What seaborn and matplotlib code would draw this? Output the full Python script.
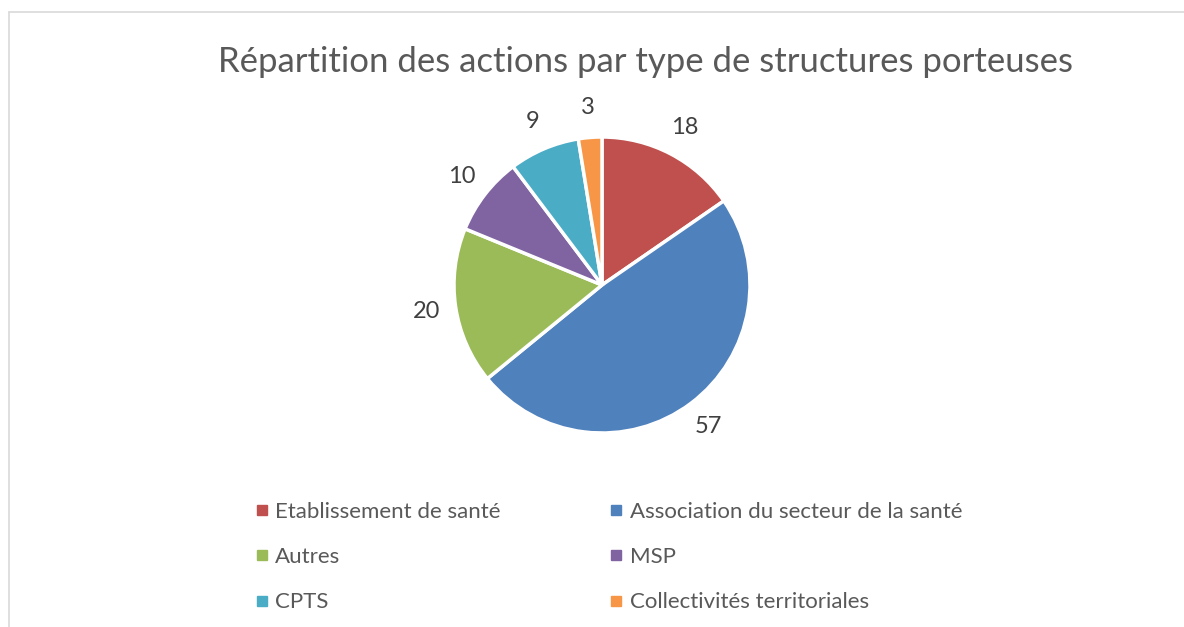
import matplotlib
matplotlib.use("Agg")
import matplotlib.pyplot as plt
import seaborn as sns
from matplotlib.lines import Line2D

# Data
categories = [
    "Etablissement de santé",
    "Association du secteur de la santé",
    "Autres",
    "MSP",
    "CPTS",
    "Collectivités territoriales",
]
counts = [18, 57, 20, 10, 9, 3]
colors = ["#C0504D", "#4F81BD", "#9BBB59", "#8064A2", "#4BACC6", "#F79646"]
title = "Répartition des actions par type de structures porteuses"

sns.set_theme(style="white")
plt.rcParams["font.family"] = ["Lato", "DejaVu Sans"]

W, H = 1184, 627
fig = plt.figure(figsize=(W / 100, H / 100), dpi=100)

# pie axes: centre (602, 285) px, radius 148 px
cx, cy, r = 602, 285, 148
k = 1.4
half = r * k
ax = fig.add_axes([(cx - half) / W, (H - cy - half) / H, 2 * half / W, 2 * half / H])

wedges, texts = ax.pie(
    counts,
    colors=colors,
    startangle=90,
    counterclock=False,
    labels=[str(v) for v in counts],
    labeldistance=1.2,
    wedgeprops=dict(edgecolor="white", linewidth=2.5),
    textprops=dict(fontsize=17, color="#404040"),
)
for t in texts:
    t.set_horizontalalignment("center")
    t.set_verticalalignment("center")
ax.set_xlim(-k, k)
ax.set_ylim(-k, k)
ax.set_aspect("equal")
ax.axis("off")

fig.text(646 / W, 1 - 62 / H, title, ha="center", va="center",
         fontsize=25, color="#595959")

# legend, column-major ordering to reproduce the two-column layout
order = [0, 2, 4, 1, 3, 5]
handles = [Line2D([], [], marker="s", linestyle="none", markersize=6.5,
                  markerfacecolor=colors[i], markeredgecolor=colors[i])
           for i in order]
labels = [categories[i] for i in order]
fig.legend(handles, labels, ncol=2, frameon=False, fontsize=16,
           loc="center left", bbox_to_anchor=(242 / W, 1 - 557 / H),
           handletextpad=0.2, columnspacing=4.8, labelspacing=1.14,
           labelcolor="#595959", handlelength=0.8, borderpad=0)

# light chart-area border (top and left visible)
bc = "#D9D9D9"
fig.add_artist(Line2D([9 / W, 1], [1 - 12 / H, 1 - 12 / H], color=bc, lw=1.2,
                      transform=fig.transFigure))
fig.add_artist(Line2D([9 / W, 9 / W], [0, 1 - 12 / H], color=bc, lw=1.2,
                      transform=fig.transFigure))

fig.savefig("out.png", dpi=100, facecolor="white")
